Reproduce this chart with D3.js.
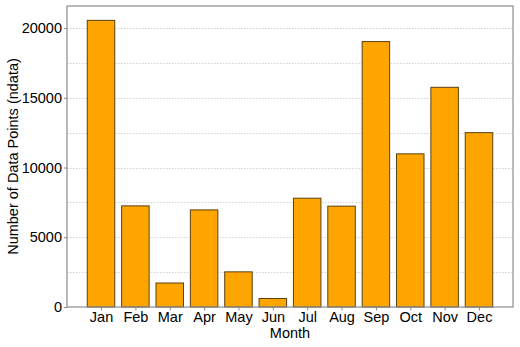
<!DOCTYPE html>
<html>
<head>
<meta charset="utf-8">
<script src="https://cdn.jsdelivr.net/npm/d3@7"></script>
<style>
  body { margin: 0; background: #fff; }
  svg { display: block; font-family: "Liberation Sans", Arial, sans-serif; }
</style>
</head>
<body>
<div id="chart"></div>
<script>
const months = ["Jan", "Feb", "Mar", "Apr", "May", "Jun", "Jul", "Aug", "Sep", "Oct", "Nov", "Dec"];
const counts = [20550, 7250, 1720, 6960, 2520, 610, 7800, 7230, 19030, 10980, 15750, 12500];
const yTicks = [0, 5000, 10000, 15000, 20000];
const yMinor = [2500, 7500, 12500, 17500];

const width = 520;
const height = 347;
const margin = { top: 6, right: 7, bottom: 40, left: 67 };
const plot = {
  left: margin.left,
  right: width - margin.right,
  top: margin.top,
  bottom: height - margin.bottom,
};
const fontSize = 14.5;

const svg = d3.select("#chart")
  .append("svg")
  .attr("width", width)
  .attr("height", height);

// x: linear in category index, matplotlib-like padding
const x = d3.scaleLinear()
  .domain([-0.99, 11.99])
  .range([plot.left, plot.right]);
const barW = 0.8;

const y = d3.scaleLinear()
  .domain([0, 21580])
  .range([plot.bottom, plot.top]);

// gridlines (major + minor, dotted)
svg.append("g")
  .selectAll("line")
  .data(yTicks.concat(yMinor).filter(d => d > 0))
  .join("line")
  .attr("x1", plot.left)
  .attr("x2", plot.right)
  .attr("y1", d => Math.round(y(d)) + 0.5)
  .attr("y2", d => Math.round(y(d)) + 0.5)
  .attr("stroke", "#c8c8c8")
  .attr("stroke-width", 0.8)
  .attr("stroke-dasharray", "1.5,1.5");

// bars
svg.append("g")
  .selectAll("rect")
  .data(counts)
  .join("rect")
  .attr("x", (d, i) => x(i - barW / 2))
  .attr("y", d => y(d))
  .attr("width", x(barW) - x(0))
  .attr("height", d => y(0) - y(d))
  .attr("fill", "#ffa500")
  .attr("stroke", "#5a4010")
  .attr("stroke-width", 1);

// frame
svg.append("rect")
  .attr("x", plot.left)
  .attr("y", plot.top)
  .attr("width", plot.right - plot.left)
  .attr("height", plot.bottom - plot.top)
  .attr("fill", "none")
  .attr("stroke", "#8c8c8c")
  .attr("stroke-width", 1.2);

// y axis
const yAxis = svg.append("g")
  .attr("transform", `translate(${plot.left},0)`)
  .call(d3.axisLeft(y).tickValues(yTicks).tickFormat(d3.format("d")).tickSize(3).tickPadding(2));
yAxis.attr("font-size", fontSize).attr("font-family", null);
yAxis.select(".domain").remove();
yAxis.selectAll("line").attr("stroke", "#8c8c8c");
yAxis.selectAll("text").attr("fill", "#000");

// x axis
const xAxis = svg.append("g")
  .attr("transform", `translate(0,${plot.bottom})`)
  .call(d3.axisBottom(x).tickValues(d3.range(12)).tickFormat(i => months[i]).tickSize(3.5).tickPadding(1));
xAxis.attr("font-size", fontSize).attr("font-family", null);
xAxis.select(".domain").remove();
xAxis.selectAll("line").attr("stroke", "#8c8c8c");
xAxis.selectAll("text").attr("fill", "#000");

// labels
svg.append("text")
  .attr("x", (plot.left + plot.right) / 2)
  .attr("y", 338)
  .attr("text-anchor", "middle")
  .attr("font-size", fontSize)
  .text("Month");

svg.append("text")
  .attr("transform", `translate(18,${(plot.top + plot.bottom) / 2}) rotate(-90)`)
  .attr("text-anchor", "middle")
  .attr("font-size", fontSize)
  .text("Number of Data Points (ndata)");
</script>
</body>
</html>
